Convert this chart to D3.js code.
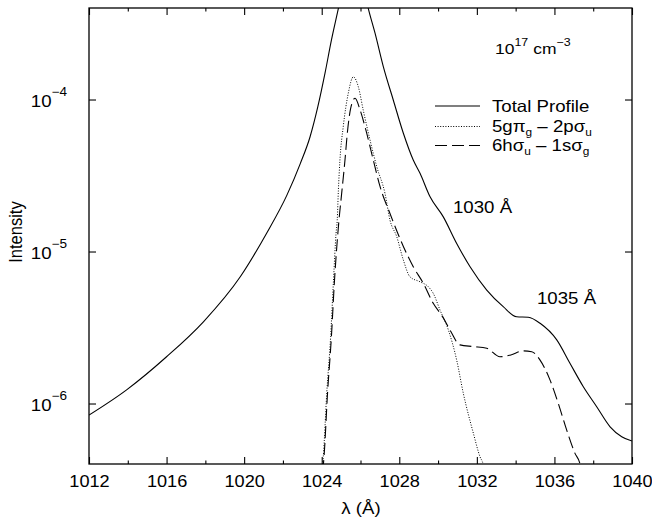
<!DOCTYPE html>
<html>
<head>
<meta charset="utf-8">
<title>Line profile at 10^17 cm^-3</title>
<script src="https://cdn.jsdelivr.net/npm/d3@7"></script>
<style>
  html, body { margin: 0; background: #fff; }
  svg { display: block; font-family: "Liberation Sans", Arial, Helvetica, sans-serif; }
</style>
</head>
<body>
<div id="chart"></div>
<script>
// values (wavelength in Angstrom, intensity)
var totalWave = [1012.0, 1013.94, 1016.0, 1017.9, 1019.8, 1021.16, 1022.2, 1022.9, 1023.4,
  1023.8, 1024.17, 1024.5, 1024.86, 1025.2, 1025.63, 1026.05, 1026.4, 1026.75, 1027.18,
  1027.69, 1028.21, 1028.72, 1029.07, 1029.58, 1030.27, 1030.96, 1031.65, 1032.51, 1033.36,
  1034.05, 1034.65, 1035.26, 1036.12, 1036.8, 1037.49, 1038.18, 1038.87, 1039.47, 1040.0];
var totalInt = [8.39e-7, 1.23e-6, 2.03e-6, 3.45e-6, 6.82e-6, 1.32e-5, 2.34e-5, 3.80e-5, 5.69e-5,
  8.97e-5, 1.49e-4, 2.46e-4, 3.98e-4, 6.3e-4, 8.9e-4, 6.3e-4, 3.98e-4, 2.73e-4, 1.64e-4,
  9.93e-5, 6.0e-5, 4.0e-5, 3.27e-5, 2.30e-5, 1.69e-5, 1.13e-5, 7.94e-6, 5.58e-6, 4.34e-6,
  3.72e-6, 3.69e-6, 3.37e-6, 2.62e-6, 1.84e-6, 1.29e-6, 9.53e-7, 7.03e-7, 6.05e-7, 5.66e-7];

var pgWave = [1024.0, 1024.08, 1024.26, 1024.46, 1024.6, 1024.74, 1024.8, 1024.86, 1024.94, 1025.11,
  1025.37, 1025.63, 1025.89, 1026.14, 1026.49, 1026.84, 1027.26, 1027.52, 1027.87, 1028.21,
  1028.55, 1029.07, 1029.5, 1029.75, 1030.1, 1030.53, 1030.96, 1031.3, 1031.82, 1032.16,
  1032.32, 1032.4];
var pgInt = [3.55e-7, 4.47e-7, 1.17e-6, 2.75e-6, 6.18e-6, 1.32e-5, 1.61e-5, 2.54e-5, 4.0e-5, 6.62e-5,
  1.10e-4, 1.41e-4, 1.21e-4, 8.53e-5, 5.42e-5, 3.61e-5, 2.42e-5, 1.61e-5, 1.25e-5, 8.79e-6,
  6.82e-6, 6.32e-6, 5.86e-6, 5.31e-6, 4.12e-6, 3.05e-6, 1.93e-6, 1.17e-6, 6.37e-7, 4.47e-7,
  4.0e-7, 3.55e-7];

var suWave = [1024.05, 1024.12, 1024.3, 1024.5, 1024.65, 1024.89, 1025.03, 1025.2, 1025.32, 1025.49,
  1025.72, 1025.98, 1026.32, 1026.66, 1027.01, 1027.52, 1028.21, 1028.72, 1029.24, 1029.75,
  1030.27, 1030.61, 1031.13, 1031.82, 1032.51, 1033.19, 1033.71, 1034.39, 1034.83, 1035.26,
  1035.77, 1036.2, 1036.63, 1037.06, 1037.32, 1037.4];
var suInt = [3.55e-7, 4.47e-7, 1.17e-6, 2.75e-6, 6.18e-6, 1.61e-5, 2.42e-5, 4.0e-5, 6.0e-5, 8.71e-5,
  1.02e-4, 8.53e-5, 6.0e-5, 4.0e-5, 2.67e-5, 1.78e-5, 1.08e-5, 7.94e-6, 6.18e-6, 4.56e-6,
  3.66e-6, 3.05e-6, 2.43e-6, 2.37e-6, 2.31e-6, 2.03e-6, 2.08e-6, 2.22e-6, 2.19e-6, 1.93e-6,
  1.43e-6, 1.0e-6, 6.70e-7, 4.70e-7, 4.0e-7, 3.55e-7];

var xTicks = [1012, 1016, 1020, 1024, 1028, 1032, 1036, 1040];
var xMinor = [1014, 1018, 1022, 1026, 1030, 1034, 1038];
var yTicks = [1e-6, 1e-5, 1e-4];

// legend rows: pieces of text, "sub" marks a subscript
var legendRows = [
  [["Total Profile", ""]],
  [["5g\u03c0", ""], ["g", "sub"], [" \u2013 2p\u03c3", ""], ["u", "sub"]],
  [["6h\u03c3", ""], ["u", "sub"], [" \u2013 1s\u03c3", ""], ["g", "sub"]]
];
var notes = [["1030 \u00c5", 1030], ["1035 \u00c5", 1035]];

var W = 652, H = 520;
var SX = 1.13;   // the lettering in the original is a bit wide
var FS = 16.5;

var x = d3.scaleLinear().domain([1012, 1040]).range([89, 632]);
var y = d3.scaleLog().domain([4e-7, 4e-4]).range([464, 8]);

var svg = d3.select("#chart").append("svg")
    .attr("width", W)
    .attr("height", H);

svg.append("clipPath").attr("id", "plotclip")
  .append("rect")
    .attr("x", x.range()[0]).attr("y", y.range()[1])
    .attr("width", x.range()[1] - x.range()[0])
    .attr("height", y.range()[0] - y.range()[1]);

function pairs(w, v) {
    return w.map(function(d, i) { return [d, v[i]]; });
}

var line = d3.line()
    .x(function(d) { return x(d[0]); })
    .y(function(d) { return y(d[1]); })
    .curve(d3.curveMonotoneX);

var curves = svg.append("g").attr("clip-path", "url(#plotclip)");

curves.append("path").datum(pairs(totalWave, totalInt))
    .attr("d", line).attr("fill", "none").attr("stroke", "#000").attr("stroke-width", 1.1);
curves.append("path").datum(pairs(pgWave, pgInt))
    .attr("d", line).attr("fill", "none").attr("stroke", "#000").attr("stroke-width", 1)
    .attr("stroke-dasharray", "1,1.6");
curves.append("path").datum(pairs(suWave, suInt))
    .attr("d", line).attr("fill", "none").attr("stroke", "#000").attr("stroke-width", 1.1)
    .attr("stroke-dasharray", "12,5");

/* ticks, all pointing inward */
function styleAxis(g) {
    g.select(".domain").remove();
    g.selectAll(".tick line").attr("stroke", "#000").attr("stroke-width", 1.1);
}

svg.append("g").attr("transform", "translate(0,464)")
    .call(d3.axisBottom(x).tickValues(xMinor).tickSizeInner(-3.5).tickSizeOuter(0).tickFormat(""))
    .call(styleAxis);
svg.append("g").attr("transform", "translate(0,8)")
    .call(d3.axisTop(x).tickValues(xMinor).tickSizeInner(-3.5).tickSizeOuter(0).tickFormat(""))
    .call(styleAxis);
svg.append("g").attr("transform", "translate(0,8)")
    .call(d3.axisTop(x).tickValues(xTicks).tickSizeInner(-7).tickSizeOuter(0).tickFormat(""))
    .call(styleAxis);

var gx = svg.append("g").attr("transform", "translate(0,464)")
    .call(d3.axisBottom(x).tickValues(xTicks).tickSizeInner(-7).tickSizeOuter(0)
        .tickPadding(11).tickFormat(d3.format("d")))
    .call(styleAxis);
gx.selectAll("text")
    .attr("fill", "#000")
    .attr("font-size", FS)
    .attr("transform", "scale(1.1,1)");
gx.attr("font-family", null).attr("font-size", null);

svg.append("g").attr("transform", "translate(89,0)")
    .call(d3.axisLeft(y).tickValues(yTicks).tickSizeInner(-7).tickSizeOuter(0).tickFormat(""))
    .call(styleAxis);
svg.append("g").attr("transform", "translate(632,0)")
    .call(d3.axisRight(y).tickValues(yTicks).tickSizeInner(-7).tickSizeOuter(0).tickFormat(""))
    .call(styleAxis);

// 10^n labels on the left
svg.selectAll(".ylab").data(yTicks).enter().append("text")
    .attr("class", "ylab")
    .attr("transform", function(d) { return "translate(67," + (y(d) + 7.5) + ") scale(" + SX + ",1)"; })
    .attr("text-anchor", "end")
    .attr("font-size", FS)
    .each(function(d) {
        var t = d3.select(this);
        t.append("tspan").text("10");
        t.append("tspan").attr("dy", -11.5).attr("font-size", 12)
            .text("\u2212" + Math.round(-Math.log10(d)));
    });

// frame
svg.append("rect")
    .attr("x", 89).attr("y", 8).attr("width", 543).attr("height", 456)
    .attr("fill", "none").attr("stroke", "#000").attr("stroke-width", 1.3);

// axis titles
svg.append("text")
    .attr("transform", "translate(361,514) scale(" + SX + ",1)")
    .attr("text-anchor", "middle").attr("font-size", FS)
    .text("\u03bb (\u00c5)");
svg.append("text")
    .attr("transform", "translate(21.5,232) rotate(-90) scale(1," + SX + ")")
    .attr("text-anchor", "middle").attr("font-size", FS)
    .text("Intensity");

// density note
var dens = svg.append("text")
    .attr("transform", "translate(495,54) scale(" + SX + ",1)")
    .attr("font-size", 15.5);
dens.append("tspan").text("10");
dens.append("tspan").attr("dy", -8).attr("font-size", 11).text("17");
dens.append("tspan").attr("dy", 8).text(" cm");
dens.append("tspan").attr("dy", -8).attr("font-size", 11).text("\u22123");

// peak notes
var notePos = { 1030: [453, 213], 1035: [537, 304] };
svg.selectAll(".note").data(notes).enter().append("text")
    .attr("class", "note")
    .attr("transform", function(d) { var p = notePos[d[1]]; return "translate(" + p[0] + "," + p[1] + ") scale(" + SX + ",1)"; })
    .attr("font-size", FS)
    .text(function(d) { return d[0]; });

// legend
var legY = [106, 126.5, 145.5];
var legDash = [null, "1,1.6", "12,5"];
var leg = svg.append("g");
legendRows.forEach(function(row, i) {
    leg.append("line")
        .attr("x1", 435).attr("x2", 480).attr("y1", legY[i]).attr("y2", legY[i])
        .attr("stroke", "#000").attr("stroke-width", 1.1)
        .attr("stroke-dasharray", legDash[i]);
    var t = leg.append("text")
        .attr("transform", "translate(492," + (legY[i] + 5.5) + ") scale(" + SX + ",1)")
        .attr("font-size", FS);
    var shift = 0;
    row.forEach(function(p) {
        var s = t.append("tspan").text(p[0]);
        if (p[1] === "sub") {
            s.attr("font-size", 10.5).attr("dy", 4 - shift);
            shift = 4;
        } else if (shift) {
            s.attr("dy", -shift);
            shift = 0;
        }
    });
});
</script>
</body>
</html>
